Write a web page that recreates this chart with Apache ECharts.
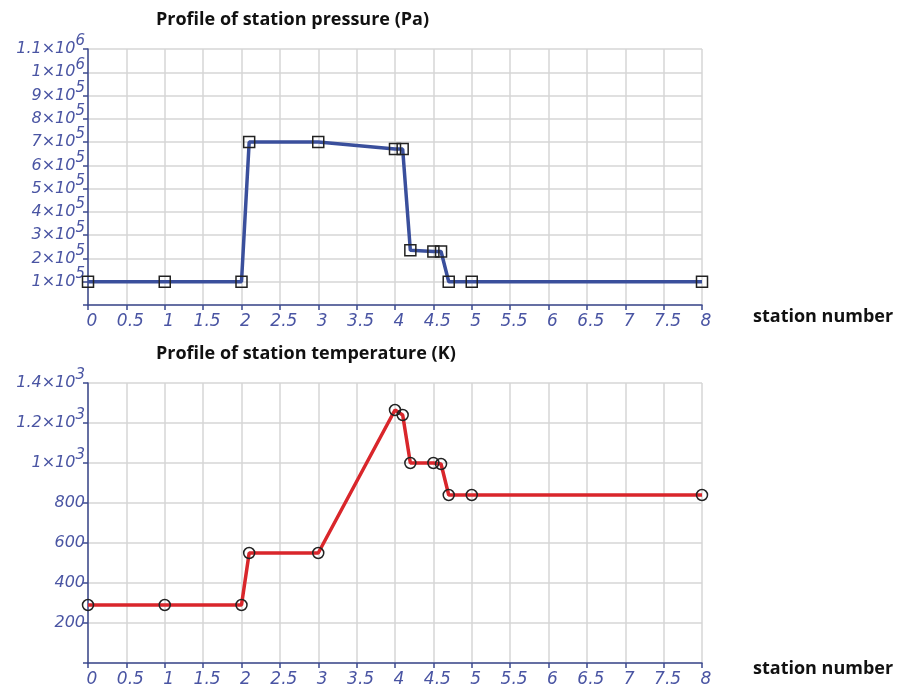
<!DOCTYPE html>
<html>
<head>
<meta charset="utf-8">
<script src="https://cdn.jsdelivr.net/npm/echarts@6/dist/echarts.min.js"></script>
<style>
  html, body { margin: 0; padding: 0; background: #fff; }
  #chart { width: 897px; height: 692px; }
</style>
</head>
<body>
<div id="chart"></div>
<script>
// station positions (x) shared by both profiles
const stations = [0, 1, 2, 2.1, 3, 4, 4.1, 4.2, 4.5, 4.6, 4.7, 5, 8]
// station pressure, Pa
const pressure = [1e5, 1e5, 1e5, 7e5, 7e5, 6.7e5, 6.7e5, 2.35e5, 2.3e5, 2.3e5, 1e5, 1e5, 1e5]
// station temperature, K
const temperature = [290, 290, 290, 550, 550, 1265, 1240, 1000, 1000, 995, 840, 840, 840]

const axisColor = '#3d4a8e'
const labelColor = '#4a55a3'
const labelFont = 'DejaVu Sans'

// 1x10^5 style labels with a raised exponent
function sciLabel (v, minPlain) {
  if (v === 0) return ''
  if (v < minPlain) return '{p|' + v + '}'
  const exp = Math.floor(Math.log10(v) + 1e-9)
  const m = +(v / Math.pow(10, exp)).toFixed(2)
  return '{a|' + m + '×10}{s|' + exp + '}'
}

const richLabel = {
  a: { fontSize: 16, fontStyle: 'italic', color: labelColor, fontFamily: labelFont, padding: [7, 0, 7, 0] },
  s: { fontSize: 15, fontStyle: 'italic', color: labelColor, fontFamily: labelFont, verticalAlign: 'top' },
  p: { fontSize: 16, fontStyle: 'italic', color: labelColor, fontFamily: labelFont }
}

function makeX (gridIndex) {
  return {
    gridIndex: gridIndex,
    type: 'value',
    min: 0,
    max: 8,
    interval: 0.5,
    axisLine: { lineStyle: { color: axisColor, width: 1.5 } },
    axisTick: { length: 5, lineStyle: { color: axisColor, width: 1.5 } },
    splitLine: { show: true, lineStyle: { color: '#d6d6d6', width: 1.5 } },
    axisLabel: { fontSize: 17, fontStyle: 'italic', color: labelColor, fontFamily: labelFont, margin: 8, padding: [0, 0, 0, 8] }
  }
}

function makeY (gridIndex, max, step) {
  return {
    gridIndex: gridIndex,
    type: 'value',
    min: 0,
    max: max,
    interval: step,
    axisLine: { show: true, lineStyle: { color: axisColor, width: 1.5 } },
    axisTick: { show: true, length: 5, lineStyle: { color: axisColor, width: 1.5 } },
    splitLine: { lineStyle: { color: '#d6d6d6', width: 1.5 } },
    axisLabel: { margin: 3, showMaxLabel: true, hideOverlap: false, rich: richLabel, formatter: v => sciLabel(v, 1000) }
  }
}

const titleStyle = { fontSize: 18, fontWeight: 'bold', color: '#111', fontFamily: 'Open Sans' }

const option = {
  animation: false,
  title: [
    { text: 'Profile of station pressure (Pa)', left: 151, top: 6, textStyle: titleStyle },
    { text: 'Profile of station temperature (K)', left: 151, top: 340, textStyle: titleStyle },
    { text: 'station number', left: 748, top: 303, textStyle: titleStyle },
    { text: 'station number', left: 748, top: 655, textStyle: titleStyle }
  ],
  grid: [
    { left: 88, top: 49, width: 614, height: 256 },
    { left: 88, top: 383, width: 614, height: 280 }
  ],
  xAxis: [makeX(0), makeX(1)],
  yAxis: [makeY(0, 1.1e6, 1e5), makeY(1, 1400, 200)],
  series: [
    {
      type: 'line',
      xAxisIndex: 0,
      yAxisIndex: 0,
      data: stations.map((x, i) => [x, pressure[i]]),
      lineStyle: { color: '#3a4f9c', width: 3.5 },
      symbol: 'rect',
      symbolSize: 11,
      itemStyle: { color: 'rgba(0,0,0,0)', borderColor: '#222', borderWidth: 1.5 }
    },
    {
      type: 'line',
      xAxisIndex: 1,
      yAxisIndex: 1,
      data: stations.map((x, i) => [x, temperature[i]]),
      lineStyle: { color: '#d9262b', width: 3.5 },
      symbol: 'circle',
      symbolSize: 11,
      itemStyle: { color: 'rgba(0,0,0,0)', borderColor: '#222', borderWidth: 1.5 }
    }
  ]
}

const chart = echarts.init(document.getElementById('chart'))
chart.setOption(option)
</script>
</body>
</html>
